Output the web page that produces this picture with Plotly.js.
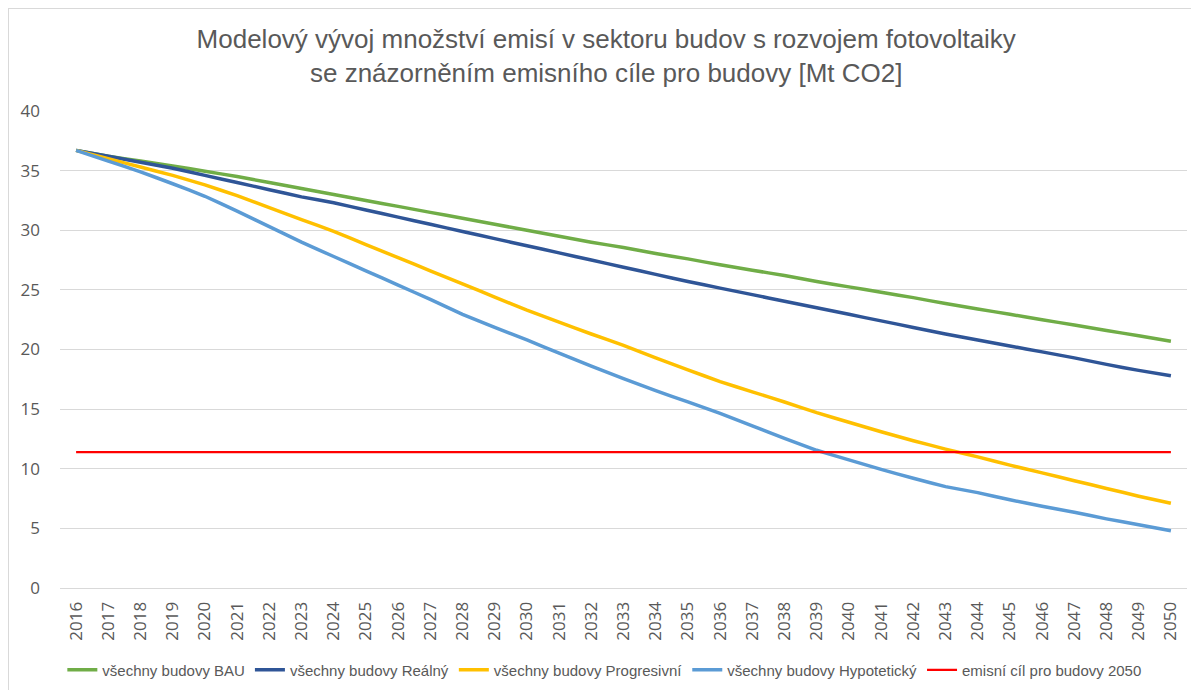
<!DOCTYPE html>
<html>
<head>
<meta charset="utf-8">
<script src="https://cdn.plot.ly/plotly-3.0.1.min.js"></script>
<style>
  html, body { margin: 0; padding: 0; background: #fff; }
  #frame { position: absolute; left: 8px; top: 8px; width: 1200px; height: 700px; border-left: 1px solid #d9d9d9; border-top: 1px solid #d9d9d9; pointer-events: none; }
  #chart { width: 1191px; height: 690px; }
</style>
</head>
<body>
<div id="chart"></div>
<div id="frame"></div>
<script>
const years = ["2016","2017","2018","2019","2020","2021","2022","2023","2024","2025","2026","2027","2028","2029","2030","2031","2032","2033","2034","2035","2036","2037","2038","2039","2040","2041","2042","2043","2044","2045","2046","2047","2048","2049","2050"];

const bau = [36.7,36.2,35.8,35.4,34.95,34.5,34.0,33.5,33.0,32.5,32.0,31.5,31.0,30.5,30.0,29.5,29.0,28.55,28.05,27.6,27.1,26.65,26.2,25.7,25.25,24.8,24.35,23.85,23.4,22.95,22.5,22.05,21.6,21.15,20.7];

const realny = [36.7,36.2,35.7,35.2,34.6,34.0,33.4,32.8,32.3,31.7,31.1,30.5,29.9,29.3,28.7,28.1,27.5,26.9,26.3,25.7,25.15,24.6,24.05,23.5,22.95,22.4,21.85,21.3,20.8,20.3,19.8,19.3,18.75,18.25,17.8];

const progresivni = [36.7,36.0,35.3,34.6,33.8,32.9,31.9,30.9,29.9,28.8,27.7,26.6,25.5,24.4,23.3,22.3,21.3,20.35,19.3,18.3,17.3,16.45,15.6,14.7,13.9,13.1,12.35,11.65,11.0,10.3,9.65,9.0,8.35,7.7,7.1];

const hypoteticky = [36.7,35.8,34.9,33.9,32.85,31.6,30.3,29.0,27.8,26.6,25.4,24.2,22.95,21.85,20.8,19.7,18.6,17.55,16.55,15.6,14.65,13.6,12.55,11.55,10.75,9.95,9.2,8.5,8.0,7.4,6.85,6.35,5.8,5.3,4.8];

const cil = [11.4,11.4,11.4,11.4,11.4,11.4,11.4,11.4,11.4,11.4,11.4,11.4,11.4,11.4,11.4,11.4,11.4,11.4,11.4,11.4,11.4,11.4,11.4,11.4,11.4,11.4,11.4,11.4,11.4,11.4,11.4,11.4,11.4,11.4,11.4];

const names = ["všechny budovy BAU","všechny budovy Reálný","všechny budovy Progresivní","všechny budovy Hypotetický","emisní cíl pro budovy 2050"];
const colors = ["#70AD47","#2F5597","#FFC000","#5B9BD5","#FF0000"];
const series = [bau, realny, progresivni, hypoteticky, cil];
const widths = [3.5,3.5,3.5,3.5,2.2];

const traces = series.map((s, i) => ({
  type: "scatter",
  mode: "lines",
  x: years,
  y: s,
  name: names[i],
  line: { color: colors[i], width: widths[i], shape: "spline", smoothing: 0.2 },
  hoverinfo: "x+y+name"
}));

const narrow = "Liberation Sans Narrow, Arial Narrow, sans-serif";

const layout = {
  width: 1191,
  height: 690,
  paper_bgcolor: "#ffffff",
  plot_bgcolor: "#ffffff",
  margin: { l: 60, r: 4, t: 111, b: 100 },
  title: {
    text: "Modelový vývoj množství emisí v sektoru budov s rozvojem fotovoltaiky<br>se znázorněním emisního cíle pro budovy [Mt CO2]",
    font: { family: narrow, size: 26, color: "#595959" },
    x: 0.509, xref: "container", xanchor: "center",
    y: 0.93, yref: "container", yanchor: "top"
  },
  xaxis: {
    type: "category",
    range: [-0.5, 34.5],
    tickangle: -90,
    tickfont: { family: "Open Sans, sans-serif", size: 17, color: "#595959" },
    showgrid: false,
    showline: true,
    linecolor: "#d9d9d9",
    linewidth: 1,
    ticks: "",
    ticklabelstandoff: 6,
    zeroline: false,
    fixedrange: true
  },
  yaxis: {
    range: [0, 40],
    dtick: 5,
    tickfont: { family: "Open Sans, sans-serif", size: 17, color: "#595959" },
    showgrid: true,
    gridcolor: "#d9d9d9",
    gridwidth: 1,
    zeroline: false,
    showline: false,
    ticks: "",
    ticklabelstandoff: 19,
    fixedrange: true
  },
  showlegend: true,
  legend: {
    orientation: "h",
    x: 0.483, xanchor: "center",
    y: -0.172, yanchor: "middle",
    font: { family: narrow, size: 15, color: "#595959" },
    itemwidth: 30,
    traceorder: "normal"
  }
};

Plotly.newPlot("chart", traces, layout, { displayModeBar: false, staticPlot: false });
</script>
</body>
</html>
